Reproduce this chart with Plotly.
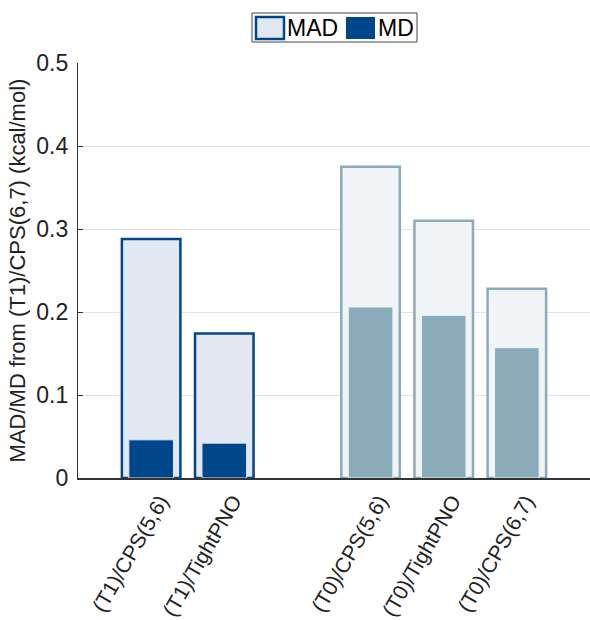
import plotly.graph_objects as go

t1_labels = ["(T1)/CPS(5,6)", "(T1)/TightPNO"]
t0_labels = ["(T0)/CPS(5,6)", "(T0)/TightPNO", "(T0)/CPS(6,7)"]
t1_pos = [1, 2]
t0_pos = [4, 5, 6]
t1_mad = [0.288, 0.174]
t1_md = [0.046, 0.042]
t0_mad = [0.375, 0.310, 0.228]
t0_md = [0.206, 0.196, 0.157]
legend_names = ["MAD", "MD"]

W, H = 590, 620
ML, MR, MT, MB = 78, 0, 63, 142
PW, PH = W - ML - MR, H - MT - MB

def px(x):
    return (x - ML) / PW

def py(y):
    return (H - MB - y) / PH

dark = "#00468b"
mad_fill = "#e1e8f1"
t0c = "#8aacb8"
t0_fill = "#f0f4f6"
FONT = "Liberation Sans, Arial, sans-serif"

fig = go.Figure()
fig.add_trace(go.Bar(x=t1_pos, y=t1_mad, width=0.8, name=legend_names[0], showlegend=False,
                     marker=dict(color=mad_fill, line=dict(color=dark, width=2.5))))
fig.add_trace(go.Bar(x=t1_pos, y=t1_md, width=0.61, name=legend_names[1], showlegend=False,
                     marker=dict(color=dark, line=dict(color=mad_fill, width=1))))
fig.add_trace(go.Bar(x=t0_pos, y=t0_mad, width=0.8, showlegend=False,
                     marker=dict(color=t0_fill, line=dict(color=t0c, width=2.5))))
fig.add_trace(go.Bar(x=t0_pos, y=t0_md, width=0.61, showlegend=False,
                     marker=dict(color=t0c, line=dict(color=t0_fill, width=1))))

# custom legend (box, swatches, labels)
shapes = [
    dict(type="rect", xref="paper", yref="paper", x0=px(252), x1=px(417), y0=py(42), y1=py(13),
         line=dict(color="#444", width=1), fillcolor="white", layer="above"),
    dict(type="rect", xref="paper", yref="paper", x0=px(256), x1=px(284), y0=py(39), y1=py(17),
         line=dict(color=dark, width=2.5), fillcolor=mad_fill, layer="above"),
    dict(type="rect", xref="paper", yref="paper", x0=px(346), x1=px(375), y0=py(39), y1=py(17),
         line=dict(color=dark, width=0), fillcolor=dark, layer="above"),
]
annotations = [
    dict(text=legend_names[0], xref="paper", yref="paper", x=px(285), y=py(28.5),
         xanchor="left", yanchor="middle", showarrow=False,
         font=dict(family=FONT, size=23, color="black")),
    dict(text=legend_names[1], xref="paper", yref="paper", x=px(376), y=py(28.5),
         xanchor="left", yanchor="middle", showarrow=False,
         font=dict(family=FONT, size=23, color="black")),
]

fig.update_layout(
    width=W, height=H,
    barmode="overlay",
    plot_bgcolor="white", paper_bgcolor="white",
    font=dict(family=FONT, size=22, color="#222"),
    margin=dict(l=ML, r=MR, t=MT, b=MB, autoexpand=False),
    showlegend=False,
    shapes=shapes,
    annotations=annotations,
    xaxis=dict(range=[0, 7], tickvals=t1_pos + t0_pos, ticktext=t1_labels + t0_labels,
               tickangle=-60, showline=True, linecolor="#333", linewidth=1.5,
               ticks="", showgrid=False, tickfont=dict(size=21, color="#222"),
               ticklabelshift=9, ticklabelstandoff=1,
               zeroline=False, automargin=False),
    yaxis=dict(range=[0, 0.5], tickvals=[0, 0.1, 0.2, 0.3, 0.4, 0.5],
               ticktext=["0", "0.1", "0.2", "0.3", "0.4", "0.5"],
               showline=True, linecolor="#333", linewidth=1.2, ticks="inside", ticklen=5,
               tickcolor="#333", showgrid=True, gridcolor="#e3e3e3", zeroline=False,
               automargin=False, ticklabelstandoff=4,
               title=dict(text="MAD/MD from (T1)/CPS(6,7) (kcal/mol)",
                          font=dict(size=22, color="#222"), standoff=4),
               tickfont=dict(size=23, color="#222")),
)
fig.write_html("out.html", config={"displayModeBar": False},
               post_script="document.body.style.margin='0';")
